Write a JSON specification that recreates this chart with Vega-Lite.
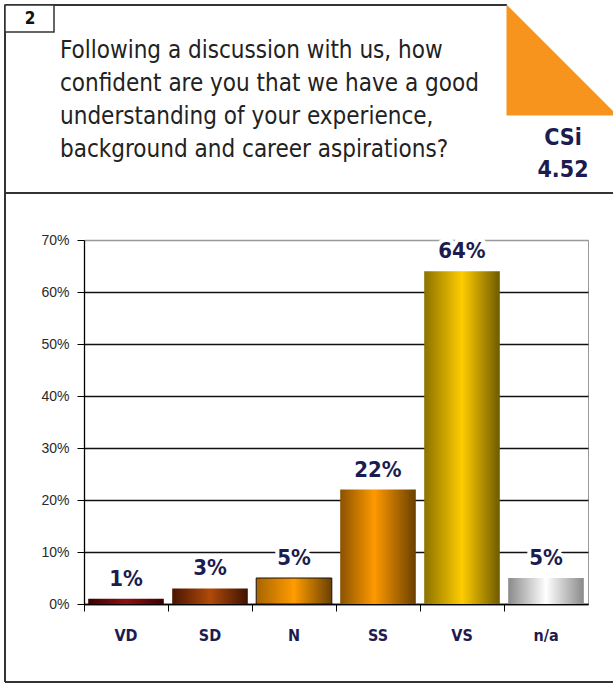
{
  "$schema": "https://vega.github.io/schema/vega-lite/v6.json",
  "width": 504,
  "height": 364,
  "autosize": {"type": "none"},
  "padding": {"left": 84, "top": 240, "right": 25, "bottom": 81},
  "background": "white",
  "config": {
    "view": {"stroke": "#999999", "strokeWidth": 1},
    "font": "Liberation Sans Narrow, Arial Narrow, DejaVu Sans Condensed, sans-serif"
  },
  "data": {
    "values": [
      {"cat": "VD", "pct": 0.01},
      {"cat": "SD", "pct": 0.03},
      {"cat": "N", "pct": 0.05},
      {"cat": "SS", "pct": 0.22},
      {"cat": "VS", "pct": 0.64},
      {"cat": "n/a", "pct": 0.05}
    ]
  },
  "layer": [
    {
      "mark": {"type": "bar", "width": {"band": 0.9}, "strokeWidth": 1},
      "encoding": {
        "x": {
          "field": "cat", "type": "nominal", "sort": null,
          "scale": {"paddingInner": 0, "paddingOuter": 0},
          "axis": {
            "title": null, "labelAngle": 0, "labelFont": "Liberation Sans Narrow, Arial Narrow, DejaVu Sans Condensed, sans-serif",
            "labelFontSize": 16, "labelFontWeight": "bold", "labelColor": "#1c1c50",
            "tickSize": 7, "tickColor": "#000000", "domainColor": "#000000", "domainWidth": 1.3,
            "labelPadding": 16, "bandPosition": 0, "grid": false
          }
        },
        "y": {
          "field": "pct", "type": "quantitative",
          "scale": {"domain": [0, 0.7], "nice": false},
          "axis": {
            "title": null, "values": [0, 0.1, 0.2, 0.3, 0.4, 0.5, 0.6, 0.7], "format": ".0%",
            "labelFont": "Liberation Sans, Arial, sans-serif", "labelFontSize": 14, "labelColor": "#2a2a2a",
            "tickSize": 7, "tickColor": "#000000", "domainColor": "#000000", "domainWidth": 1.3,
            "labelPadding": 8, "grid": true,
            "gridColor": {"condition": {"test": "datum.value >= 0.69", "value": "#999999"}, "value": "#111111"},
            "gridWidth": 1.3
          }
        },
        "fill": {
          "condition": [
            {"test": "datum.cat === 'VD'", "value": {"gradient": "linear", "x1": 0, "y1": 0, "x2": 1, "y2": 0, "stops": [{"offset": 0, "color": "#3d0000"}, {"offset": 0.5, "color": "#8e1010"}, {"offset": 1, "color": "#3d0000"}]}},
            {"test": "datum.cat === 'SD'", "value": {"gradient": "linear", "x1": 0, "y1": 0, "x2": 1, "y2": 0, "stops": [{"offset": 0, "color": "#4a1500"}, {"offset": 0.5, "color": "#b04a0a"}, {"offset": 1, "color": "#3f1200"}]}},
            {"test": "datum.cat === 'N'", "value": {"gradient": "linear", "x1": 0, "y1": 0, "x2": 1, "y2": 0, "stops": [{"offset": 0, "color": "#a86400"}, {"offset": 0.5, "color": "#ff9c00"}, {"offset": 1, "color": "#6a4000"}]}},
            {"test": "datum.cat === 'SS'", "value": {"gradient": "linear", "x1": 0, "y1": 0, "x2": 1, "y2": 0, "stops": [{"offset": 0, "color": "#8a5200"}, {"offset": 0.45, "color": "#ff9900"}, {"offset": 1, "color": "#6a4000"}]}},
            {"test": "datum.cat === 'VS'", "value": {"gradient": "linear", "x1": 0, "y1": 0, "x2": 1, "y2": 0, "stops": [{"offset": 0, "color": "#8c7200"}, {"offset": 0.5, "color": "#ffcc00"}, {"offset": 1, "color": "#6e5a00"}]}}
          ],
          "value": {"gradient": "linear", "x1": 0, "y1": 0, "x2": 1, "y2": 0, "stops": [{"offset": 0, "color": "#8a8a8a"}, {"offset": 0.5, "color": "#ffffff"}, {"offset": 1, "color": "#8a8a8a"}]}
        },
        "stroke": {"condition": {"test": "datum.cat === 'N'", "value": "#111111"}, "value": null}
      }
    },
    {
      "mark": {"type": "text", "baseline": "alphabetic", "dy": -13, "fontSize": 22, "fontWeight": "bold", "fill": "white", "stroke": "white", "strokeWidth": 8, "strokeJoin": "round"},
      "encoding": {
        "x": {"field": "cat", "type": "nominal", "sort": null},
        "y": {"field": "pct", "type": "quantitative"},
        "text": {"field": "pct", "type": "quantitative", "format": ".0%"}
      }
    },
    {
      "mark": {"type": "text", "baseline": "alphabetic", "dy": -13, "fontSize": 22, "fontWeight": "bold", "fill": "#1c1c50"},
      "encoding": {
        "x": {"field": "cat", "type": "nominal", "sort": null},
        "y": {"field": "pct", "type": "quantitative"},
        "text": {"field": "pct", "type": "quantitative", "format": ".0%"}
      }
    },
    {
      "data": {"values": [{"part": "frame"}]},
      "mark": {"type": "rule", "stroke": "#333333", "strokeWidth": 2},
      "encoding": {"x": {"value": -79}, "x2": {"value": 423}, "y": {"value": -235}}
    },
    {
      "data": {"values": [{"part": "frame"}]},
      "mark": {"type": "rule", "stroke": "#333333", "strokeWidth": 2},
      "encoding": {"x": {"value": -79}, "y": {"value": -235}, "y2": {"value": 442}}
    },
    {
      "data": {"values": [{"part": "frame"}]},
      "mark": {"type": "rule", "stroke": "#333333", "strokeWidth": 2},
      "encoding": {"x": {"value": -79}, "x2": {"value": 540}, "y": {"value": 442}}
    },
    {
      "data": {"values": [{"part": "frame"}]},
      "mark": {"type": "rule", "stroke": "#333333", "strokeWidth": 2},
      "encoding": {"x": {"value": -79}, "x2": {"value": 540}, "y": {"value": -47}}
    },
    {
      "data": {"values": [{"number": "2"}]},
      "mark": {"type": "rect", "fill": "white", "stroke": "#333333", "strokeWidth": 1.5},
      "encoding": {"x": {"value": -79}, "x2": {"value": -30}, "y": {"value": -235}, "y2": {"value": -208}}
    },
    {
      "data": {"values": [{"number": "2"}]},
      "mark": {"type": "text", "fontSize": 17, "fontWeight": "bold", "fill": "#111111", "baseline": "middle", "align": "center"},
      "encoding": {"x": {"value": -54}, "y": {"value": -221}, "text": {"field": "number", "type": "nominal"}}
    },
    {
      "data": {"values": [{"question": "Following a discussion with us, how\nconfident are you that we have a good\nunderstanding of your experience,\nbackground and career aspirations?"}]},
      "mark": {"type": "text", "fontSize": 24, "lineHeight": 33, "lineBreak": "\n", "fill": "#222222", "baseline": "alphabetic", "align": "left"},
      "encoding": {"x": {"value": -24}, "y": {"value": -182}, "text": {"field": "question", "type": "nominal"}}
    },
    {
      "data": {"values": [{"index": "CSi", "score": 4.52}]},
      "mark": {"type": "point", "shape": "M-1,-1L1,1L-1,1Z", "filled": true, "fill": "#f7941d", "opacity": 1, "strokeWidth": 0},
      "encoding": {"x": {"value": 478}, "y": {"value": -180}, "size": {"value": 12321}}
    },
    {
      "data": {"values": [{"index": "CSi", "score": 4.52}]},
      "mark": {"type": "text", "fontSize": 23, "fontWeight": "bold", "fill": "#1c1c50", "baseline": "middle", "align": "center"},
      "encoding": {"x": {"value": 479}, "y": {"value": -102}, "text": {"field": "index", "type": "nominal"}}
    },
    {
      "data": {"values": [{"index": "CSi", "score": 4.52}]},
      "mark": {"type": "text", "fontSize": 23, "fontWeight": "bold", "fill": "#1c1c50", "baseline": "middle", "align": "center"},
      "encoding": {"x": {"value": 479}, "y": {"value": -70}, "text": {"field": "score", "type": "quantitative", "format": ".2f"}}
    }
  ]
}
